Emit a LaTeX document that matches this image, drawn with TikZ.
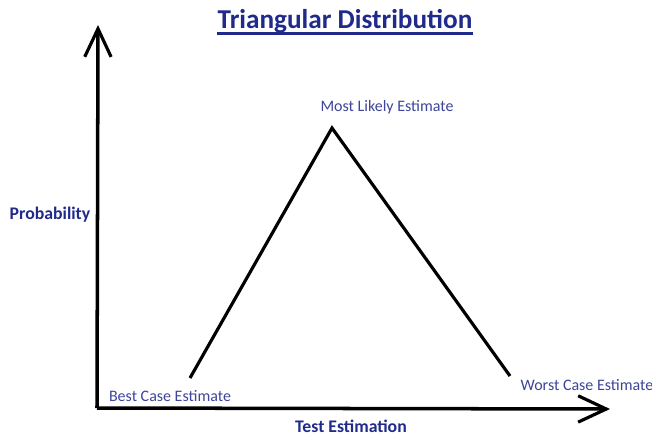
\documentclass[tikz,border=0pt]{standalone}
\usepackage{fontspec}
\setmainfont{Carlito}
\usetikzlibrary{arrows.meta}

\definecolor{headblue}{HTML}{1F2A8A}
\definecolor{lblblue}{HTML}{3D4599}

\tikzset{
  axis/.style={line width=2pt, -{Straight Barb[length=16pt, width=15pt, line width=1.8pt]}},
  curve/.style={line width=1.8pt, line join=miter},
  pointlbl/.style={text=lblblue, font=\fontsize{9.1}{11}\selectfont, inner sep=0pt},
  axislbl/.style={text=headblue, font=\bfseries\fontsize{10.1}{12}\selectfont, inner sep=0pt},
}

\begin{document}
\begin{tikzpicture}[x=0.02cm, y=-0.02cm]
    \useasboundingbox (0,0) rectangle (652,434);

    % title
    \node (title) [text=headblue, font=\bfseries\fontsize{15.5}{18}\selectfont, inner sep=0pt] at (345,21) {Triangular Distribution};
    \draw[headblue, line width=1.2pt] ([yshift=-3pt]title.base west) -- ([yshift=-3pt]title.base east);

    % axes
    \coordinate (origin) at (97,408);
    \coordinate (ytop) at (98,25);
    \coordinate (xend) at (610,409);
    \draw[axis] (origin) -- (ytop);
    \draw[axis] (origin) -- (xend);

    % triangle
    \coordinate (best) at (190,378);
    \coordinate (likely) at (332,128);
    \coordinate (worst) at (510,376);
    \draw[curve] (best) -- (likely) -- (worst);

    % labels
    \node (mostlbl) [pointlbl] at (387,107) {Most Likely Estimate};
    \node (bestlbl) [pointlbl] at (170,396) {Best Case Estimate};
    \node (worstlbl) [pointlbl] at (587,385) {Worst Case Estimate};
    \node (problbl) [axislbl] at (50,215) {Probability};
    \node (testlbl) [axislbl] at (351,426) {Test Estimation};
\end{tikzpicture}
\end{document}
